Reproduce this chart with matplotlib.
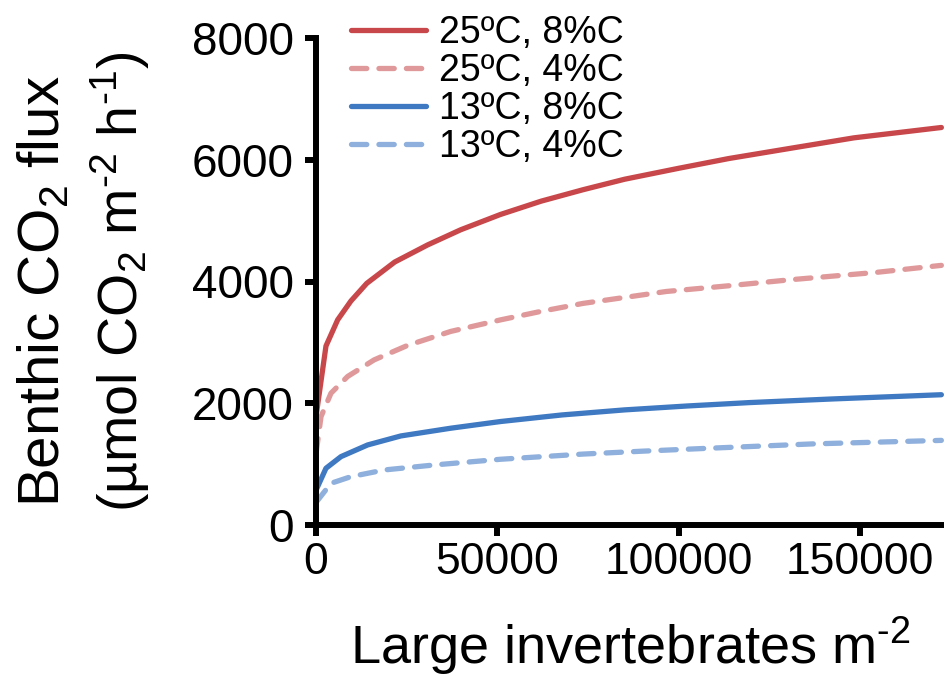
import matplotlib
matplotlib.use("Agg")
import matplotlib.pyplot as plt

plt.rcParams['font.family'] = ['Liberation Sans', 'DejaVu Sans']
plt.rcParams['mathtext.fontset'] = 'custom'
plt.rcParams['mathtext.rm'] = 'Liberation Sans'
plt.rcParams['mathtext.it'] = 'Liberation Sans:italic'
plt.rcParams['mathtext.bf'] = 'Liberation Sans:bold'

# ---- data ----
labels = ["25ºC, 8%C", "25ºC, 4%C", "13ºC, 8%C", "13ºC, 4%C"]

x_r8 = [0, 2750, 5970, 9630, 14000, 21700, 30740, 39900, 50800, 62080,
        73580, 85080, 100000, 113800, 131000, 148300, 172400]
y_r8 = [1780, 2940, 3370, 3680, 3970, 4320, 4600, 4850, 5100, 5320,
        5507, 5680, 5860, 6020, 6190, 6360, 6530]

x_r4 = [0, 1380, 4130, 8720, 16040, 25230, 37150, 50900, 62080, 73580,
        96560, 113800, 131000, 154500, 172400]
y_r4 = [1170, 1780, 2165, 2440, 2713, 2950, 3180, 3370, 3510, 3640,
        3836, 3930, 4030, 4150, 4265]

x_b8 = [0, 2750, 6880, 14230, 23390, 37150, 50900, 67830, 85080, 102300,
        119560, 142500, 172400]
y_b8 = [570, 932, 1123, 1315, 1463, 1590, 1700, 1808, 1891, 1955,
        2011, 2071, 2140]

x_b4 = [0, 4130, 9630, 18800, 32550, 50900, 73580, 90800, 108000, 136800, 172400]
y_b4 = [370, 685, 794, 904, 986, 1080, 1165, 1215, 1260, 1332, 1390]

xticks = [0, 50000, 100000, 150000]
yticks = [0, 2000, 4000, 6000, 8000]

colors = ["#c8474a", "#e0999a", "#3f79c2", "#8fb0dc"]

# ---- figure ----
fig = plt.figure(figsize=(9.45, 6.79), dpi=100)
ax = fig.add_axes([316/945, 154/679, 629/945, (525-38)/679])

lw = 3.8
series = [(x_r8, y_r8, '-'), (x_r4, y_r4, '--'), (x_b8, y_b8, '-'), (x_b4, y_b4, '--')]
for (xs, ys, ls), c, lab in zip(series, colors, labels):
    line, = ax.plot(xs, ys, color=c, lw=lw, ls=ls, label=lab,
                    solid_capstyle='round', dash_capstyle='round',
                    solid_joinstyle='round', clip_on=False)
    if ls == '--':
        line.set_dashes([2.9, 2.3])

ax.set_xlim(0, 173400)
ax.set_ylim(0, 8000)
ax.set_xticks(xticks)
ax.set_yticks(yticks)
ax.set_xticklabels([str(v) for v in xticks])
ax.set_yticklabels([str(v) for v in yticks])

for s in ['top', 'right']:
    ax.spines[s].set_visible(False)
for s in ['left', 'bottom']:
    ax.spines[s].set_linewidth(4.3)
    ax.spines[s].set_capstyle('projecting')
ax.tick_params(axis='both', which='major', length=8, width=4.3,
               labelsize=32, direction='out', pad=4, colors='black')
ax.tick_params(axis='y', labelsize=33, pad=8)

ax.set_xlabel(r"Large invertebrates m$^{\text{-2}}$", fontsize=39, labelpad=23)
fig.text(44/945, 1 - 291/679, r"Benthic CO$_2$ flux", rotation=90,
         ha='center', va='center', fontsize=42)
fig.text(120/945, 1 - 282/679, r"(µmol CO$_2$ m$^{\text{-2}}$ h$^{\text{-1}}$)", rotation=90,
         ha='center', va='center', fontsize=40)

leg = fig.legend(loc='upper left', bbox_to_anchor=(351/945, 1 - 15/679),
                 frameon=False, fontsize=27, handlelength=2.0, handletextpad=0.35,
                 labelspacing=0.05, borderpad=0, borderaxespad=0)

fig.savefig("out.png", dpi=100)
